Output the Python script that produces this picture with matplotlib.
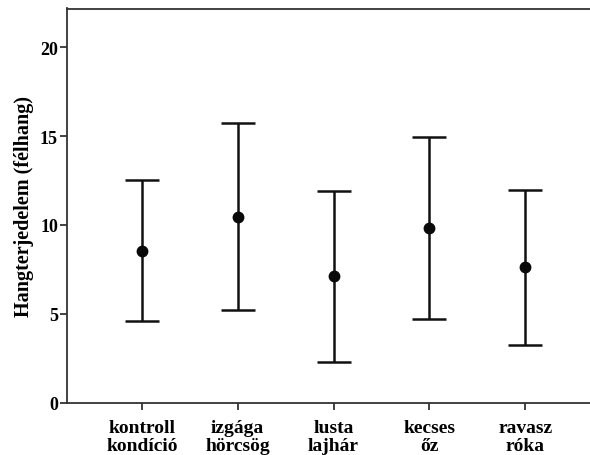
import matplotlib
matplotlib.use("Agg")
import matplotlib.pyplot as plt

categories = ["kontroll\nkondíció", "izgága\nhörcsög", "lusta\nlajhár", "kecses\nőz", "ravasz\nróka"]
means = [8.55, 10.45, 7.11, 9.81, 7.61]
upper = [12.50, 15.74, 11.93, 14.92, 11.99]
lower = [4.58, 5.23, 2.30, 4.70, 3.24]
yticks = [0, 5, 10, 15, 20]
ylabel = "Hangterjedelem (félhang)"

plt.rcParams['font.family'] = ['Liberation Serif', 'DejaVu Serif']
plt.rcParams['font.weight'] = 'bold'

W, H = 590, 456
fig = plt.figure(figsize=(W / 100, H / 100), dpi=100)
left_px, right_px, top_px, bottom_px = 67, 590, 9.5, 403.5
ax = fig.add_axes([left_px / W, (H - bottom_px) / H, (right_px - left_px) / W, (bottom_px - top_px) / H])

x = list(range(len(categories)))
yerr = [[m - l for m, l in zip(means, lower)], [u - m for m, u in zip(means, upper)]]
ax.errorbar(x, means, yerr=yerr, fmt='o', color='#0a0a0a', ecolor='#111111',
            elinewidth=1.8, capsize=12, capthick=1.8, markersize=7.5)

ax.set_ylim(0, 22.18)
ax.set_xlim(-0.78, 4.675)
ax.set_yticks(yticks)
ax.set_yticklabels([str(v) for v in yticks])
ax.set_xticks(x)
ax.set_xticklabels(categories, linespacing=1.1)

for lab in ax.get_yticklabels():
    lab.set_fontweight('bold')
    lab.set_fontsize(13)
for lab in ax.get_xticklabels():
    lab.set_fontweight('bold')
    lab.set_fontsize(14)

ax.set_ylabel(ylabel, fontsize=14.5, fontweight='bold', labelpad=4)

for s in ['left', 'bottom', 'top', 'right']:
    ax.spines[s].set_color('#333333')
    ax.spines[s].set_linewidth(1.3)
ax.spines['right'].set_visible(False)
ax.tick_params(axis='y', direction='out', length=5, width=1.3, color='#333333', pad=1.5)
ax.tick_params(axis='x', direction='out', length=5, width=1.3, color='#333333', pad=7)

fig.savefig("out.png", dpi=100)
